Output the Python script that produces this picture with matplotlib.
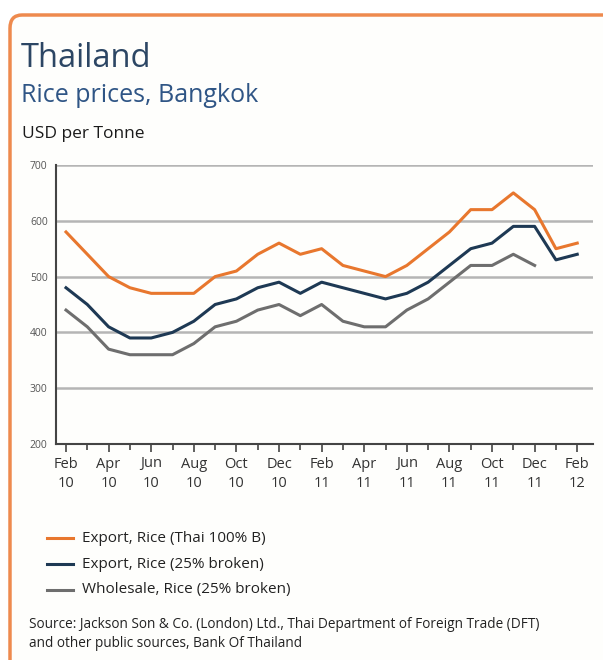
import numpy as np
import matplotlib
matplotlib.use("Agg")
from matplotlib import pyplot as plt
from matplotlib.patches import FancyBboxPatch

plt.rcParams['font.family'] = ['Open Sans', 'DejaVu Sans']

# monthly, Feb 2010 .. Feb 2012
months = ["Feb 10", "Mar 10", "Apr 10", "May 10", "Jun 10", "Jul 10", "Aug 10",
          "Sep 10", "Oct 10", "Nov 10", "Dec 10", "Jan 11", "Feb 11", "Mar 11",
          "Apr 11", "May 11", "Jun 11", "Jul 11", "Aug 11", "Sep 11", "Oct 11",
          "Nov 11", "Dec 11", "Jan 12", "Feb 12"]
tick_labels = ["Feb\n10", "Apr\n10", "Jun\n10", "Aug\n10", "Oct\n10", "Dec\n10",
               "Feb\n11", "Apr\n11", "Jun\n11", "Aug\n11", "Oct\n11", "Dec\n11", "Feb\n12"]

export_100b = [580, 540, 500, 480, 470, 470, 470, 500, 510, 540, 560, 540, 550,
               520, 510, 500, 520, 550, 580, 620, 620, 650, 620, 550, 560]
export_25 = [480, 450, 410, 390, 390, 400, 420, 450, 460, 480, 490, 470, 490,
             480, 470, 460, 470, 490, 520, 550, 560, 590, 590, 530, 540]
wholesale_25 = [440, 410, 370, 360, 360, 360, 380, 410, 420, 440, 450, 430, 450,
                420, 410, 410, 440, 460, 490, 520, 520, 540, 520]

c_orange = "#E8772E"
c_navy = "#1E3954"
c_gray = "#6E6E6E"

fig = plt.figure(figsize=(6.03, 6.6), dpi=100)
W, H = 603, 660

# frame with rounded top-left corner
frame = FancyBboxPatch((10 / W, -0.1), 1.2, (660 - 15) / H + 0.1,
                       boxstyle="round,pad=0,rounding_size=0.02",
                       transform=fig.transFigure, facecolor="#FEFEFC",
                       edgecolor="#EE8A4E", linewidth=2.5, zorder=-5)
fig.patches.append(frame)

fig.text(21 / W, 1 - 67 / H, "Thailand", fontsize=23.5, color="#2C4664")
fig.text(21 / W, 1 - 102 / H, "Rice prices, Bangkok", fontsize=18, color="#2F5585")
fig.text(22 / W, 1 - 138 / H, "USD per Tonne", fontsize=12.5, color="#1A1A1A",
         fontweight="medium")

ax = fig.add_axes([56 / W, 1 - 444 / H, (593 - 56) / W, (444 - 165) / H], zorder=2)
ax.set_facecolor("none")
x = np.arange(len(months))

ax.plot(x[:len(export_100b)], export_100b, color=c_orange, lw=2.2, zorder=3)
ax.plot(x[:len(export_25)], export_25, color=c_navy, lw=2.2, zorder=3)
ax.plot(x[:len(wholesale_25)], wholesale_25, color=c_gray, lw=2.2, zorder=3)

ax.set_ylim(200, 700)
ax.set_xlim(-0.47, 24.74)
ax.set_yticks([200, 300, 400, 500, 600, 700])
for v in [300, 400, 500, 600, 700]:
    ax.axhline(v, color="#B5B5B5", lw=1.8, zorder=1)

ax.set_xticks(x[::2])
ax.set_xticklabels(tick_labels, fontsize=10.5, color="#333333", linespacing=1.4)
ax.set_xticks(x, minor=True)
ax.tick_params(axis="x", which="major", length=6, width=1.2, color="#444444", pad=3)
ax.tick_params(axis="x", which="minor", length=4, width=1.2, color="#444444")
ax.tick_params(axis="y", length=0, labelsize=7.5, labelcolor="#555555", pad=6)

for s in ["top", "right"]:
    ax.spines[s].set_visible(False)
for s in ["left", "bottom"]:
    ax.spines[s].set_color("#444444")
    ax.spines[s].set_linewidth(1.5)

# legend
legend_rows = [("Export, Rice (Thai 100% B)", c_orange, 538),
               ("Export, Rice (25% broken)", c_navy, 564),
               ("Wholesale, Rice (25% broken)", c_gray, 590)]
for label, col, yy in legend_rows:
    fig.lines.append(plt.Line2D([47 / W, 73 / W], [1 - yy / H, 1 - yy / H],
                                transform=fig.transFigure, color=col, lw=2.2))
    fig.text(82 / W, 1 - yy / H, label, fontsize=11, color="#222222", va="center")

fig.text(29 / W, 1 - 634 / H,
         "Source: Jackson Son & Co. (London) Ltd., Thai Department of Foreign Trade (DFT)\n"
         "and other public sources, Bank Of Thailand",
         fontsize=9.8, color="#222222", va="center", linespacing=1.4)

fig.savefig("out.png", dpi=100)
